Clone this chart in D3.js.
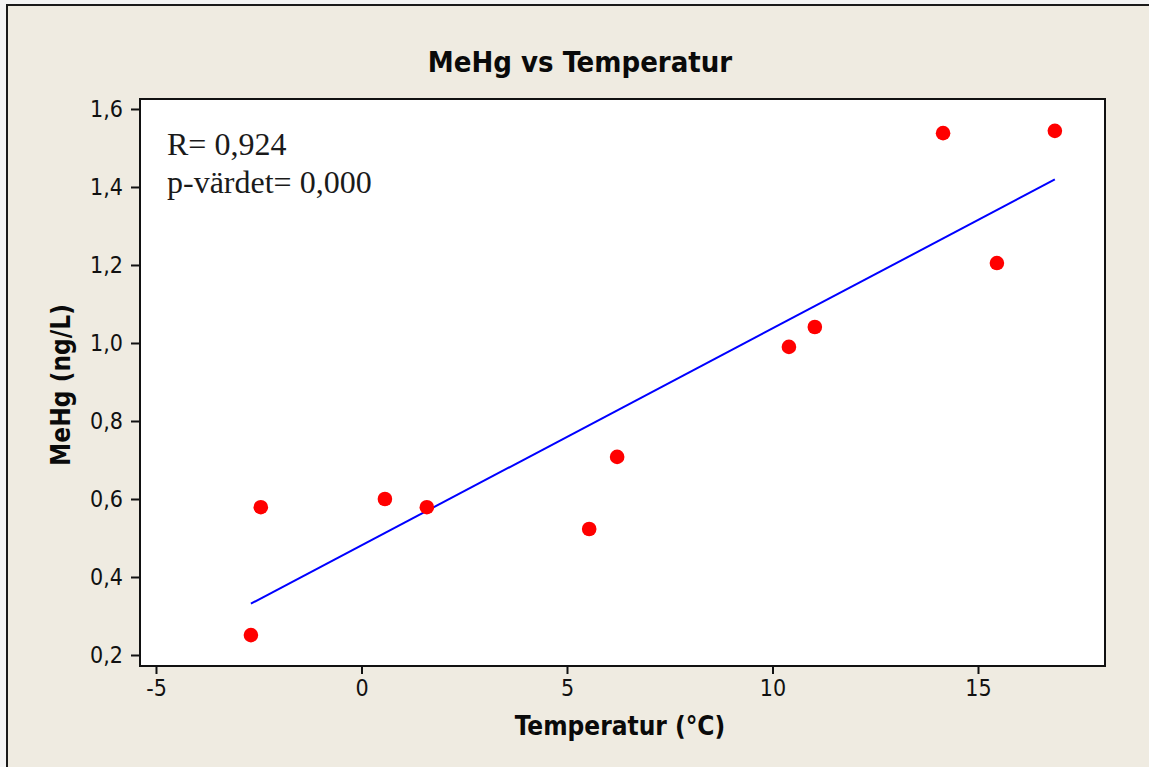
<!DOCTYPE html>
<html>
<head>
<meta charset="utf-8">
<script src="https://cdn.jsdelivr.net/npm/d3@7"></script>
<style>
  html, body { margin: 0; padding: 0; background: #ffffff; }
  svg { display: block; }
</style>
</head>
<body>
<svg id="chart" width="1149" height="767"></svg>
<script>
// ---- Data ----
const temperature = [-2.69, -2.45, 0.57, 1.59, 5.54, 6.22, 10.40, 11.03, 14.15, 15.46, 16.87];
const mehg        = [0.251, 0.579, 0.600, 0.579, 0.523, 0.708, 0.990, 1.041, 1.538, 1.205, 1.544];
const xTicks = [-5, 0, 5, 10, 15];
const yTicks = [0.2, 0.4, 0.6, 0.8, 1.0, 1.2, 1.4, 1.6];
const titleText = "MeHg vs Temperatur";
const xLabel = "Temperatur (°C)";
const yLabel = "MeHg (ng/L)";
const annotations = ["R= 0,924", "p-värdet= 0,000"];

// ---- Layout ----
const W = 1149, H = 767;
const plot = { left: 140, top: 99, right: 1105, bottom: 666 };
const sansFont = "'DejaVu Sans Condensed', 'DejaVu Sans', Tahoma, sans-serif";

const svg = d3.select("#chart");

// outer background and frame
svg.append("rect").attr("x", 0).attr("y", 0).attr("width", W).attr("height", H).attr("fill", "#f4f4f4");
svg.append("rect").attr("x", 7).attr("y", 5).attr("width", W + 10).attr("height", H + 10)
  .attr("fill", "#efebe1").attr("stroke", "#1a1a1a").attr("stroke-width", 2);

const x = d3.scaleLinear().domain([-5.389, 18.09]).range([plot.left, plot.right]);
const y = d3.scaleLinear().domain([0.1718, 1.6256]).range([plot.bottom, plot.top]);

// plot area
svg.append("rect")
  .attr("x", plot.left).attr("y", plot.top)
  .attr("width", plot.right - plot.left).attr("height", plot.bottom - plot.top)
  .attr("fill", "#ffffff");

const fmt = d => d3.format(".1f")(d).replace(".", ",");

// x axis
const xAxis = svg.append("g")
  .attr("transform", `translate(0,${plot.bottom})`)
  .call(d3.axisBottom(x).tickValues(xTicks).tickSize(8).tickPadding(6).tickFormat(d => String(d)));
// y axis
const yAxis = svg.append("g")
  .attr("transform", `translate(${plot.left},0)`)
  .call(d3.axisLeft(y).tickValues(yTicks).tickSize(9).tickPadding(8).tickFormat(fmt));

[xAxis, yAxis].forEach(g => {
  g.select(".domain").remove();
  g.selectAll("line").attr("stroke", "#111").attr("stroke-width", 2);
  g.selectAll("text").attr("fill", "#111").style("font-family", sansFont).style("font-size", "23px");
});

// plot frame
svg.append("rect")
  .attr("x", plot.left).attr("y", plot.top)
  .attr("width", plot.right - plot.left).attr("height", plot.bottom - plot.top)
  .attr("fill", "none").attr("stroke", "#111").attr("stroke-width", 2);

// regression line computed from data
const n = temperature.length;
const mx = d3.mean(temperature), my = d3.mean(mehg);
let sxy = 0, sxx = 0;
for (let i = 0; i < n; i++) {
  sxy += (temperature[i] - mx) * (mehg[i] - my);
  sxx += (temperature[i] - mx) ** 2;
}
const slope = sxy / sxx, intercept = my - slope * mx;
const [xmin, xmax] = d3.extent(temperature);
const line = d3.line().x(d => x(d)).y(d => y(intercept + slope * d));
svg.append("path").datum([xmin, xmax])
  .attr("d", line).attr("fill", "none").attr("stroke", "#0000ff").attr("stroke-width", 2);

// points
svg.append("g").selectAll("circle")
  .data(temperature.map((t, i) => [t, mehg[i]]))
  .join("circle")
  .attr("cx", d => x(d[0])).attr("cy", d => y(d[1])).attr("r", 7.3)
  .attr("fill", "#ff0000");

// annotation
svg.append("g").selectAll("text")
  .data(annotations).join("text")
  .attr("x", 167).attr("y", (d, i) => 155 + i * 38)
  .attr("fill", "#1a1a1a")
  .style("font-family", "'Liberation Serif', 'Times New Roman', serif")
  .style("font-size", "32px")
  .text(d => d);

// title
svg.append("text")
  .attr("x", 580).attr("y", 72).attr("text-anchor", "middle")
  .attr("fill", "#0a0a0a")
  .style("font-family", sansFont).style("font-weight", "bold").style("font-size", "29px")
  .text(titleText);

// x label
svg.append("text")
  .attr("x", 620).attr("y", 735).attr("text-anchor", "middle")
  .attr("fill", "#0a0a0a")
  .style("font-family", sansFont).style("font-weight", "bold").style("font-size", "26px")
  .text(xLabel);

// y label
svg.append("text")
  .attr("transform", `translate(70,385) rotate(-90)`)
  .attr("text-anchor", "middle")
  .attr("fill", "#0a0a0a")
  .style("font-family", sansFont).style("font-weight", "bold").style("font-size", "26px")
  .text(yLabel);
</script>
</body>
</html>
